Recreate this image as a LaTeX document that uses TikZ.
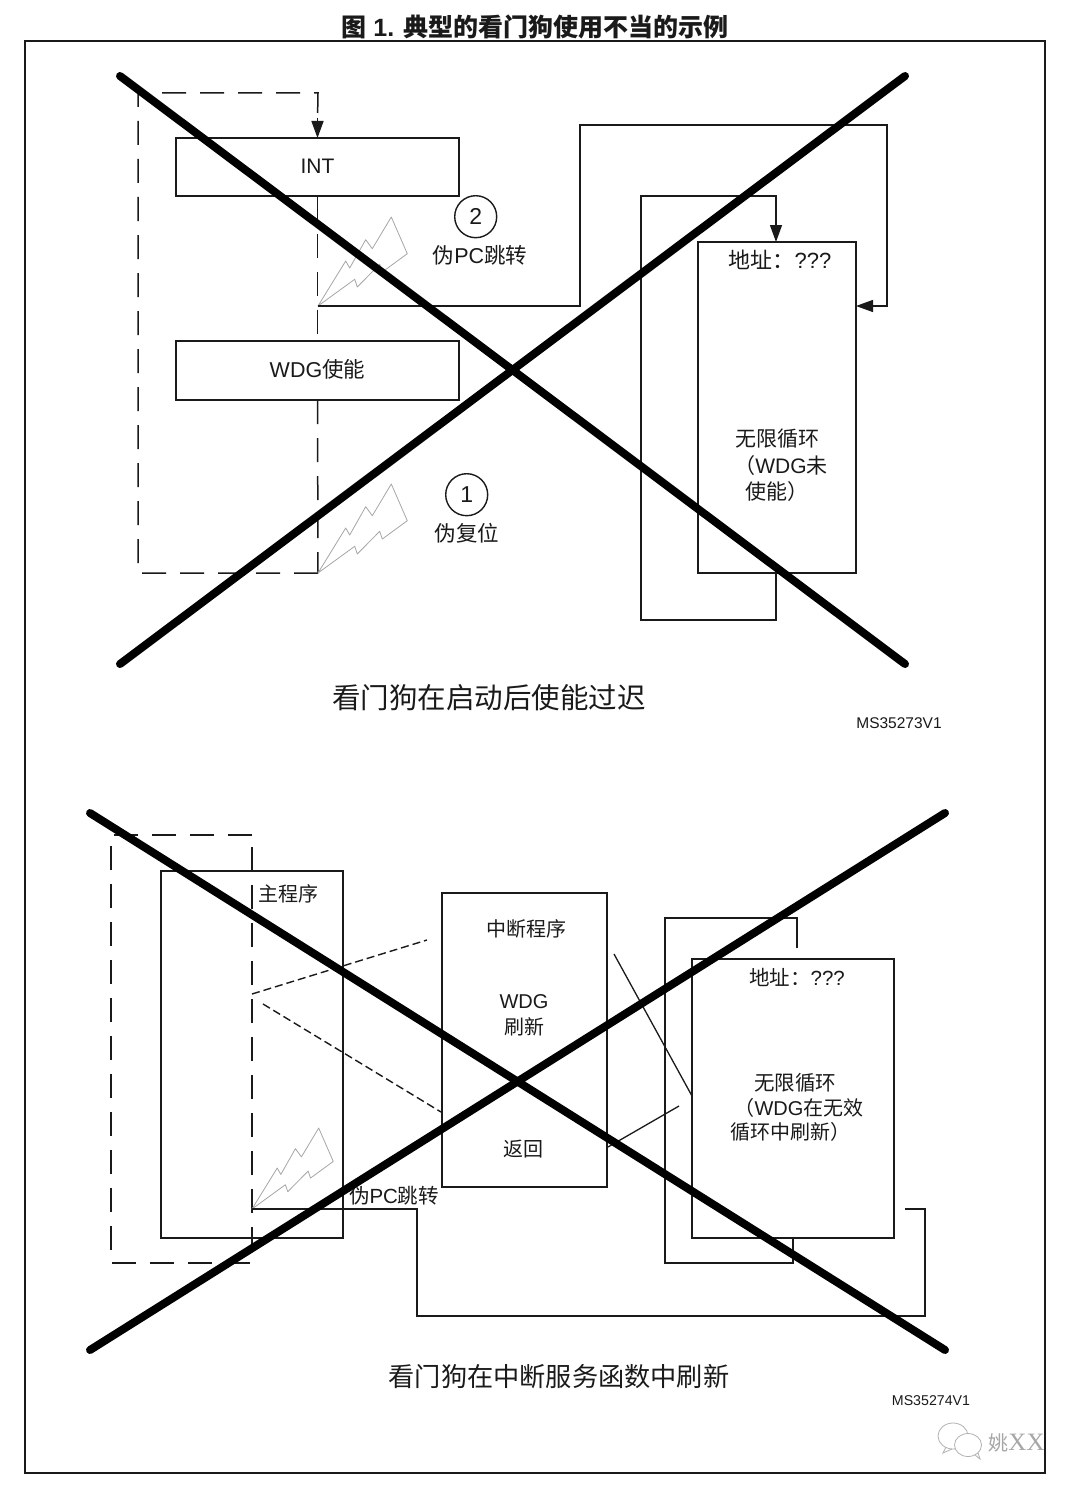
\documentclass[tikz,border=0pt]{standalone}
\usepackage{fontspec}
\setmainfont{Liberation Sans}
\newfontfamily\cjk{Noto Sans CJK SC}
\newfontfamily\wmserif{Liberation Serif}
\usetikzlibrary{arrows.meta,calc}
\newcommand{\pxsize}[1]{\fontsize{#1}{#1}\selectfont}
\definecolor{ink}{HTML}{1A1A1A}
\tikzset{
  box/.style={draw=ink,line width=2pt,outer sep=0pt,inner sep=0pt,fill=none},
  lbl/.style={text=ink,inner sep=0pt,outer sep=0pt,anchor=center},
  thin line/.style={draw=ink,line width=1.3pt},
  long dash/.style={draw=ink,line width=1.5pt,dash pattern=on 24pt off 14pt},
  short dash/.style={draw=ink,line width=1.4pt,dash pattern=on 8pt off 4pt},
  cross/.style={draw=black,line width=8pt,line cap=round},
  head/.style={-{Triangle[length=17pt,width=12pt]}},
  bolt/.style={draw=black!35,line width=0.8pt,line join=round},
  wmark/.style={draw=black!30,line width=0.8pt},
  roundel/.style={circle,draw=ink,line width=1.4pt,minimum size=42pt,inner sep=0pt,outer sep=0pt,text=ink},
}
\newcommand{\boltat}[2]{\draw[bolt,shift={(#1)},scale=#2] (0,0) -- (27.7,-45) -- (31.7,-38) -- (47.7,-66.3) -- (54.3,-57.3) -- (73.3,-89) -- (89.3,-52.3) -- (64.3,-34) -- (61.7,-41.7) -- (39.3,-19) -- (36.7,-26.7) -- cycle;}
\begin{document}
\begin{tikzpicture}[x=1pt,y=-1pt]
\useasboundingbox (0,0) rectangle (1080,1490);
\fill[white] (0,0) rectangle (1080,1490);
\draw[ink,line width=1.5pt] (25,41) rectangle (1045,1473);
\node[lbl] (title) at (535,27) {\pxsize{25}\bfseries{\cjk 图} 1. {\cjk 典型的看门狗使用不当的示例}};

% ---- upper diagram
\node[box,minimum width=283pt,minimum height=58pt] (int) at (317.5,167) {};
\node[lbl] (intT) at (317.5,166) {\pxsize{21}INT};
\node[box,minimum width=283pt,minimum height=59pt] (wdg) at (317.5,370.5) {};
\node[lbl] (wdgT) at (317.5,369) {\pxsize{21.5}WDG{\cjk 使能}};
\coordinate (tipA) at (318,306);
\coordinate (tipB) at (318,573);
\coordinate (dl) at (138,573);
\coordinate (ul) at (138,93);
\coordinate (ur) at (318,93);
\draw[long dash] (tipB) -- (dl) -- (ul) -- (ur) -- ($(int.north)+(0,-18)$);
\draw[ink,line width=1.5pt,head] ($(int.north)+(0,-20)$) -- (int.north);
\draw[long dash] (int.south) -- (wdg.north);
\draw[long dash] (wdg.south) -- (tipB);
\boltat{tipA}{1}
\boltat{tipB}{1}
\node[roundel] (c2) at (475.7,216.7) {\pxsize{23}2};
\node[roundel] (c1) at (466.7,494.7) {\pxsize{23}1};
\node[lbl] (l2) at (480,255) {\pxsize{21.5}{\cjk 伪}PC{\cjk 跳转}};
\node[lbl] (l1) at (467,533) {\pxsize{21.5}\cjk 伪复位};
\node[box,minimum width=158pt,minimum height=331pt] (loopA) at (777,407.5) {};
\node[lbl] (a1) at (780,260) {\pxsize{22}{\cjk 地址：}???};
\node[lbl] (a2) at (777,439) {\pxsize{21}\cjk 无限循环};
\node[lbl] (a3) at (781,466) {\pxsize{21}{\cjk （}WDG{\cjk 未}};
\node[lbl] (a4) at (777,492) {\pxsize{21}\cjk 使能）};
\draw[thin line,head] (tipA) -- (580,306) -- (580,125) -- (887,125) -- (887,306) -- (loopA.east |- 0,306);
\draw[thin line,head] (776,573) -- (776,620) -- (641,620) -- (641,196) -- (776,196) -- (776,242);
\node[lbl] (capA) at (489,698) {\pxsize{28.5}\cjk 看门狗在启动后使能过迟};
\node[lbl] (msA) at (899,723) {\pxsize{15.5}MS35273V1};

% ---- lower diagram
\node[box,minimum width=182pt,minimum height=367pt] (mainp) at (252,1054.5) {};
\node[lbl] (mainT) at (288,894) {\pxsize{20}\cjk 主程序};
\coordinate (tipC) at (252,1209);
\draw[long dash] (252,835) -- (111,835) -- (111,1263) -- (252,1263) -- cycle;
\boltat{tipC}{0.91}
\node[box,minimum width=165pt,minimum height=294pt] (isr) at (524.5,1040) {};
\node[lbl] (i1) at (526,929) {\pxsize{20}\cjk 中断程序};
\node[lbl] (i2) at (524,1002) {\pxsize{20}WDG};
\node[lbl] (i3) at (524,1027) {\pxsize{20}\cjk 刷新};
\node[lbl] (i4) at (523,1149) {\pxsize{20}\cjk 返回};
\node[box,minimum width=202pt,minimum height=279pt] (loopB) at (793,1098.5) {};
\node[lbl] (b1) at (797,977) {\pxsize{20.5}{\cjk 地址：}???};
\node[lbl] (b2) at (795,1083) {\pxsize{20.5}\cjk 无限循环};
\node[lbl] (b3) at (799,1108) {\pxsize{20}{\cjk （}WDG{\cjk 在无效}};
\node[lbl] (b4) at (790,1132) {\pxsize{20}\cjk 循环中刷新）};
\node[lbl] (lj) at (394,1196) {\pxsize{20.5}{\cjk 伪}PC{\cjk 跳转}};
\coordinate (d1a) at (252,994);
\coordinate (d1b) at (427,940);
\coordinate (d2a) at (263,1004);
\coordinate (d2b) at (441,1112);
\draw[short dash] (d1a) -- (d1b);
\draw[short dash] (d2a) -- (d2b);
\coordinate (s1a) at (614,954);
\coordinate (s1b) at (692,1096);
\coordinate (s2a) at (608,1147);
\coordinate (s2b) at (679,1106);
\draw[thin line] (s1a) -- (s1b);
\draw[thin line] (s2a) -- (s2b);
\coordinate (jmpEnd) at (905,1209);
\draw[thin line] (tipC) -- (417,1209) -- (417,1316) -- (925,1316) -- (925,1209) -- (jmpEnd);
\coordinate (loopS) at (797,948);
\coordinate (loopE) at (793,1238);
\draw[thin line] (loopS) -- (797,918) -- (665,918) -- (665,1263) -- (793,1263) -- (loopE);
\node[lbl] (capB) at (559,1377) {\pxsize{26.2}\cjk 看门狗在中断服务函数中刷新};
\node[lbl] (msB) at (931,1401) {\pxsize{14.2}MS35274V1};

% ---- crossing strokes
\coordinate (xa1) at (120,76);
\coordinate (xa2) at (905,664);
\coordinate (xa3) at (905,76);
\coordinate (xa4) at (120,664);
\draw[cross] (xa1) -- (xa2);
\draw[cross] (xa3) -- (xa4);
\coordinate (xb1) at (90,813);
\coordinate (xb2) at (945,1350);
\coordinate (xb3) at (945,813);
\coordinate (xb4) at (90,1350);
\draw[cross] (xb1) -- (xb2);
\draw[cross] (xb3) -- (xb4);

% ---- watermark
\draw[wmark,fill=white] (953,1436) ellipse (15pt and 13pt);
\draw[wmark] (946,1447) -- (943,1453) -- (952,1449);
\draw[wmark,fill=white] (968,1445) ellipse (13.5pt and 11.5pt);
\draw[wmark] (975,1455) -- (980,1459) -- (978,1453);
\node[lbl,text=black!35] (wm) at (1016.5,1443) {{\pxsize{20}\cjk 姚}{\pxsize{25}\wmserif XX}};
\end{tikzpicture}
\end{document}
